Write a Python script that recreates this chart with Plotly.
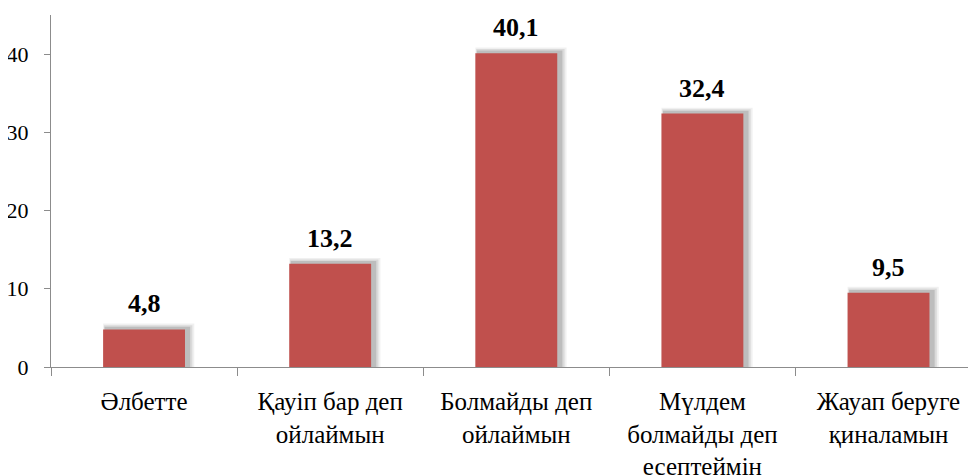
import plotly.graph_objects as go

categories = ["Әлбетте", "Қауіп бар деп<br>ойлаймын", "Болмайды деп<br>ойлаймын",
              "Мүлдем<br>болмайды деп<br>есептеймін", "Жауап беруге<br>қиналамын"]
values = [4.8, 13.2, 40.1, 32.4, 9.5]
value_labels = ["4,8", "13,2", "40,1", "32,4", "9,5"]
y_ticks = [0, 10, 20, 30, 40]

BASE_FONT = "DejaVu Serif Condensed, DejaVu Serif"
FONT = "Times, Tinos, Liberation Serif, Noto Serif, DejaVu Serif Condensed"
BAR_W = 0.44
fig = go.Figure()
# soft shadow layers
for i, (op, grow, shift) in enumerate([(0.06, 0.05, 0.025), (0.09, 0.035, 0.022), (0.13, 0.02, 0.018)]):
    fig.add_bar(x=categories, y=[v + 0.75 - i * 0.2 for v in values], width=BAR_W + grow,
                offset=-(BAR_W + grow) / 2 + shift,
                marker=dict(color=f"rgba(0,0,0,{op})", line=dict(width=0)),
                hoverinfo="skip", showlegend=False)
fig.add_bar(x=categories, y=values, width=BAR_W,
            marker=dict(color="#C0504D", line=dict(width=0)), showlegend=False)

for c, v, t in zip(categories, values, value_labels):
    fig.add_annotation(x=c, y=v, text=f"<b>{t}</b>", showarrow=False, yanchor="bottom",
                       yshift=9, font=dict(family=FONT, size=26, color="black"))

# page body has an 8px default margin: compensate in figure size/margins
fig.update_layout(
    width=968, height=467, barmode="overlay",
    margin=dict(l=43, r=0, t=7, b=108, autoexpand=False),
    paper_bgcolor="white", plot_bgcolor="white",
    font=dict(family=BASE_FONT, color="black"),
)
fig.update_xaxes(type="category", range=[-0.5, 4.47], showline=True, linecolor="#8C8C8C",
                 linewidth=1.3, ticks="outside", tickson="boundaries", ticklen=8,
                 tickcolor="#8C8C8C", showgrid=False, automargin=False,
                 tickfont=dict(family=FONT, size=25, color="black"),
                 ticklabelstandoff=12)
fig.update_yaxes(range=[0, 45], tickvals=y_ticks, showline=True, linecolor="#8C8C8C",
                 linewidth=1.3, ticks="outside", ticklen=6, tickcolor="#8C8C8C",
                 showgrid=False, zeroline=False, automargin=False,
                 tickfont=dict(family=FONT, size=22, color="black"),
                 ticklabelstandoff=11)

fig.write_html("out.html")
